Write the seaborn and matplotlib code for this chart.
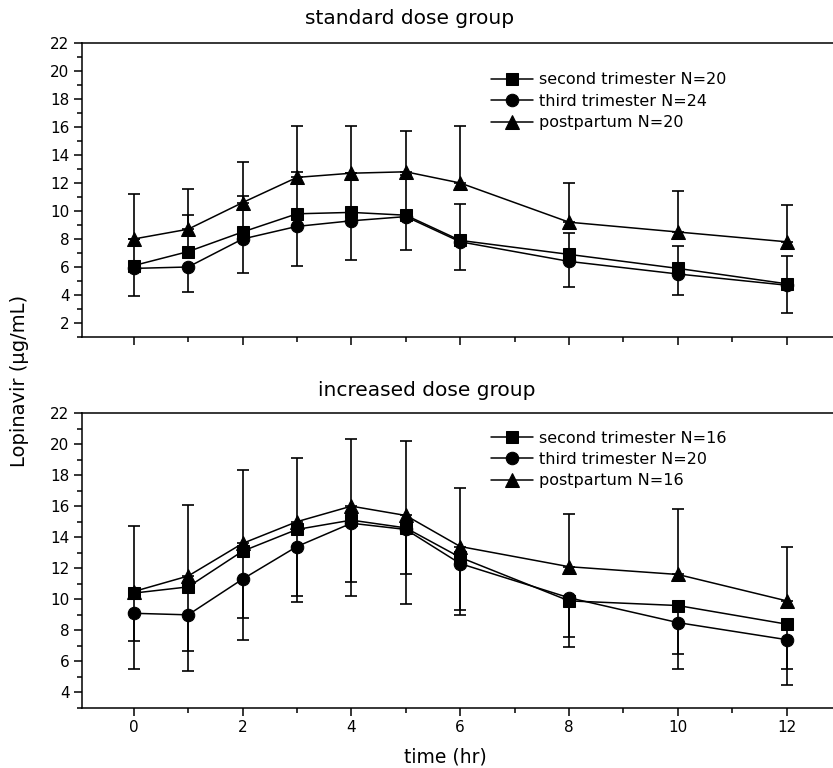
# Lopinavir concentration vs time, two dose groups
import numpy as np
import pandas as pd
import matplotlib
matplotlib.use("Agg")
import matplotlib.pyplot as plt
from matplotlib.ticker import MultipleLocator
import seaborn as sns

# %% Data
time_hr = [0, 1, 2, 3, 4, 5, 6, 8, 10, 12]

labels_std = ["second trimester N=20", "third trimester N=24", "postpartum N=20"]
labels_inc = ["second trimester N=16", "third trimester N=20", "postpartum N=16"]

std_second = [6.1, 7.1, 8.5, 9.8, 9.9, 9.7, 7.9, 6.9, 5.9, 4.8]
std_third = [5.9, 6.0, 8.0, 8.9, 9.3, 9.6, 7.8, 6.4, 5.5, 4.7]
std_post = [8.0, 8.7, 10.6, 12.4, 12.7, 12.8, 12.0, 9.2, 8.5, 7.8]
# only one side of each error bar is drawn in the original
std_second_up = [1.9, 2.6, 2.6, 3.0, 2.8, 2.9, 2.6, 1.5, 1.6, 2.0]
std_third_down = [2.0, 1.8, 2.4, 2.8, 2.8, 2.4, 2.0, 1.8, 1.5, 2.0]
std_post_up = [3.2, 2.9, 2.9, 3.7, 3.4, 2.9, 4.1, 2.8, 2.9, 2.6]

inc_second = [10.4, 10.8, 13.1, 14.5, 15.1, 14.6, 12.7, 9.9, 9.6, 8.4]
inc_third = [9.1, 9.0, 11.3, 13.4, 14.9, 14.5, 12.3, 10.1, 8.5, 7.4]
inc_post = [10.5, 11.5, 13.6, 15.0, 16.0, 15.4, 13.4, 12.1, 11.6, 9.9]
inc_second_down = [3.1, 4.1, 4.3, 4.3, 4.0, 3.0, 3.4, 2.3, 3.1, 2.9]
inc_third_down = [3.6, 3.6, 3.9, 3.6, 4.7, 4.8, 3.3, 3.2, 3.0, 2.9]
inc_post_up = [4.2, 4.6, 4.7, 4.1, 4.3, 4.8, 3.8, 3.4, 4.2, 3.5]

zeros = [0] * len(time_hr)

# %% Style
sns.set_style("ticks")
plt.rcParams['font.family'] = ['DejaVu Sans']
plt.rcParams['axes.linewidth'] = 1.1
for key in ['text.color', 'axes.labelcolor', 'xtick.color', 'ytick.color', 'axes.edgecolor']:
    plt.rcParams[key] = 'black'

markers = ["s", "o", "^"]
msizes = [8.5, 9, 10.5]

fig = plt.figure(figsize=(8.33, 7.68), dpi=100)
ax_top = fig.add_axes([82 / 833, 1 - 337 / 768, 751 / 833, 294 / 768])
ax_bot = fig.add_axes([82 / 833, 1 - 708 / 768, 751 / 833, 295 / 768])

panels = [
    (ax_top, labels_std, [std_second, std_third, std_post],
     [(zeros, std_second_up), (std_third_down, zeros), (zeros, std_post_up)],
     (1, 22), (0.545, 0.90)),
    (ax_bot, labels_inc, [inc_second, inc_third, inc_post],
     [(inc_second_down, zeros), (inc_third_down, zeros), (zeros, inc_post_up)],
     (3, 22), (0.545, 0.94)),
]

for ax, labels, series, errs, ylim, leg_pos in panels:
    for name, vals, (lo, hi), m, ms in zip(labels, series, errs, markers, msizes):
        ax.errorbar(time_hr, vals, yerr=[lo, hi], fmt="none", ecolor="black",
                    elinewidth=1.2, capsize=4, capthick=1.2, zorder=2)
        sns.lineplot(x=time_hr, y=vals, marker=m, markersize=ms, color="black",
                     markeredgecolor="black", linewidth=1.1, label=name, ax=ax,
                     zorder=3)

    ax.set_xlim(-0.95, 12.85)
    ax.set_ylim(*ylim)
    ax.xaxis.set_major_locator(MultipleLocator(2))
    ax.xaxis.set_minor_locator(MultipleLocator(1))
    ax.yaxis.set_major_locator(MultipleLocator(2))
    ax.yaxis.set_minor_locator(MultipleLocator(1))
    ax.tick_params(which="major", direction="out", length=6, width=1.1,
                   labelsize=11, pad=3)
    ax.tick_params(which="minor", direction="out", length=3.5, width=1.1)
    ax.spines["right"].set_visible(False)
    ax.set_xlabel("")
    ax.set_ylabel("")
    ax.legend(loc="upper left", bbox_to_anchor=leg_pos, frameon=False,
              fontsize=11.5, handlelength=2.6, handletextpad=0.4,
              labelspacing=0.4, borderpad=0, borderaxespad=0)

ax_top.tick_params(axis="x", labelbottom=False)

fig.text(410 / 833, 1 - 19 / 768, "standard dose group", ha="center", va="center", fontsize=14.5)
fig.text(427 / 833, 1 - 390 / 768, "increased dose group", ha="center", va="center", fontsize=14.5)
fig.text(20 / 833, 1 - 381 / 768, "Lopinavir (µg/mL)", rotation=90, ha="center", va="center", fontsize=14)
fig.text(445 / 833, 1 - 757 / 768, "time (hr)", ha="center", va="center", fontsize=13.5)

fig.savefig("out.png", dpi=100)
